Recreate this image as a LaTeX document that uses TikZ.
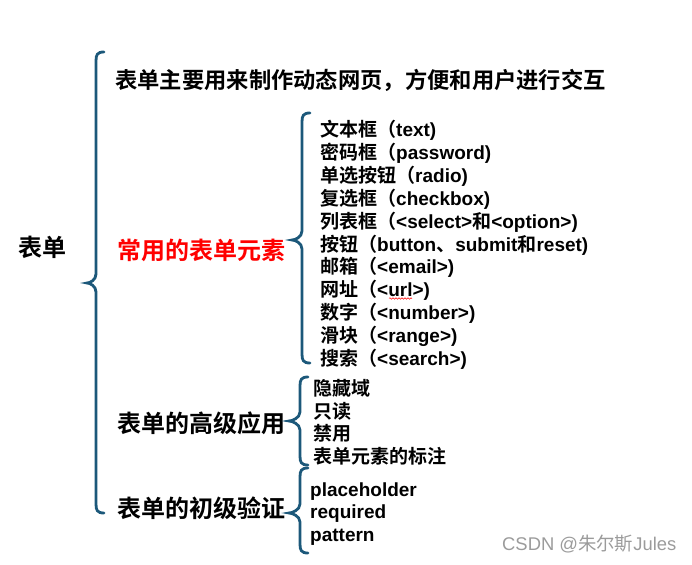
\documentclass[tikz,border=0pt]{standalone}
\usepackage{fontspec}
\setmainfont{Liberation Sans}
\newfontfamily\cjk{Noto Sans CJK SC}[BoldFont={Noto Sans CJK SC Bold}]
\usetikzlibrary{decorations.pathmorphing}
\newcommand\zh[1]{{\cjk #1}}
\definecolor{bracecol}{RGB}{28,88,122}
\definecolor{wmgray}{RGB}{155,155,155}
\newcommand\mybrace[5]{%
  \draw[bracestyle] ({#1+8},#2) .. controls ({#1+1},#2) and (#1,{#2+3}) .. (#1,{#2+9})
    -- (#1,{#5-9}) .. controls (#1,{#5-3}) and ({#4+3},#5) .. (#4,#5)
    .. controls ({#4+3},#5) and (#1,{#5+3}) .. (#1,{#5+9})
    -- (#1,{#3-9}) .. controls (#1,{#3-3}) and ({#1+1},#3) .. ({#1+8},#3);}
\begin{document}
\begin{tikzpicture}[x=1pt,y=-1pt,
  bracestyle/.style={draw=bracecol,line width=2.8pt,line cap=round},
  txt/.style={anchor=base west,inner sep=0pt,font=\bfseries},
  item/.style={txt,font=\bfseries\fontsize{19}{23}\selectfont},
  sect/.style={txt,font=\bfseries\fontsize{24}{28}\selectfont}]
\useasboundingbox (0,0) rectangle (692,564);
% root
\node[sect] (root) at (18,256) {\zh{表单}};
\mybrace{96}{52}{513}{87}{283}
% level 1
\node[txt,font=\bfseries\fontsize{22.3}{26}\selectfont] (intro) at (115,89) {\zh{表单主要用来制作动态网页，方便和用户进行交互}};
\node[sect,text=red] (common) at (117,259) {\zh{常用的表单元素}};
\node[sect] (adv) at (117,432.5) {\zh{表单的高级应用}};
\node[sect] (valid) at (117,517.5) {\zh{表单的初级验证}};
% common elements
\mybrace{302}{113}{363}{292}{240}
\node[item] (i1) at (320,136.5) {\zh{文本框（}text)};
\node[item] (i2) at (320,159.4) {\zh{密码框（}password)};
\node[item] (i3) at (320,182.3) {\zh{单选按钮（}radio)};
\node[item] (i4) at (320,205.2) {\zh{复选框（}checkbox)};
\node[item] (i5) at (320,228.1) {\zh{列表框（}<select>\zh{和}<option>)};
\node[item] (i6) at (320,251.0) {\zh{按钮（}button\zh{、}submit\zh{和}reset)};
\node[item] (i7) at (320,273.9) {\zh{邮箱（}<email>)};
\node[item] (i8) at (320,296.8) {\zh{网址（}<url>)};
\node[item] (i9) at (320,319.7) {\zh{数字（}<number>)};
\node[item] (i10) at (320,342.6) {\zh{滑块（}<range>)};
\node[item] (i11) at (320,365.5) {\zh{搜索（}<search>)};
\coordinate (w1) at (389,298.5);
\coordinate (w2) at (412,298.5);
\draw[red,line width=0.5pt,decorate,decoration={snake,amplitude=0.8pt,segment length=3pt}] (w1) -- (w2);
% advanced
\mybrace{300}{377}{465}{289}{421}
\node[item] (a1) at (313,395.3) {\zh{隐藏域}};
\node[item] (a2) at (313,418.0) {\zh{只读}};
\node[item] (a3) at (313,440.7) {\zh{禁用}};
\node[item] (a4) at (313,463.5) {\zh{表单元素的标注}};
% validation
\mybrace{300}{468}{553}{289}{513}
\node[item] (v1) at (310,496) {placeholder};
\node[item] (v2) at (310,518.5) {required};
\node[item] (v3) at (310,541) {pattern};
% watermark
\node[anchor=base west,inner sep=0pt,text=wmgray,font=\fontsize{18.4}{21}\selectfont] (wm) at (502,550.5) {CSDN @\zh{朱尔斯}Jules};
\end{tikzpicture}
\end{document}
